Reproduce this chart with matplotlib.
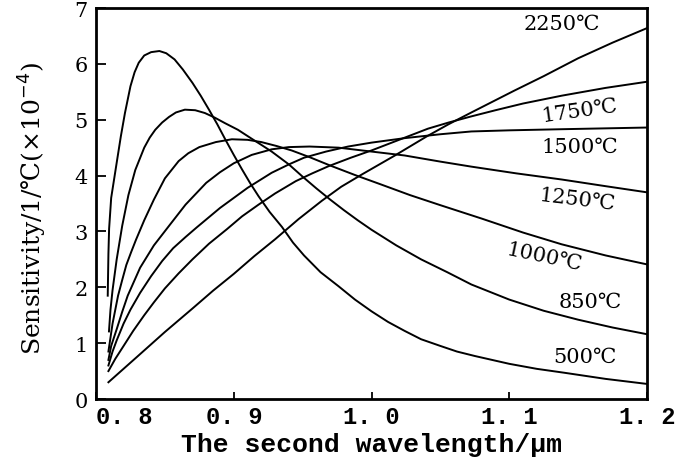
import matplotlib
matplotlib.use("Agg")
import matplotlib.pyplot as plt

# sensitivity curves, one per temperature (wavelength in um, sensitivity in 1e-4 /degC)
wl_500 = [0.8085, 0.809, 0.8095, 0.811, 0.815, 0.818, 0.821, 0.825, 0.828, 0.831, 0.835,
          0.84, 0.846, 0.851, 0.857, 0.863, 0.870, 0.876, 0.882, 0.888, 0.894, 0.9, 0.906,
          0.912, 0.918, 0.926, 0.935, 0.943, 0.951, 0.963, 0.976, 0.988, 1.0, 1.012, 1.024,
          1.036, 1.05, 1.062, 1.075, 1.1, 1.12, 1.14, 1.17, 1.2]
s_500 = [1.85, 2.6, 3.05, 3.6, 4.23, 4.7, 5.12, 5.6, 5.85, 6.02, 6.15,
         6.21, 6.23, 6.19, 6.08, 5.9, 5.66, 5.43, 5.18, 4.92, 4.64, 4.37, 4.11,
         3.86, 3.63, 3.35, 3.08, 2.8, 2.57, 2.27, 2.02, 1.78, 1.57, 1.38, 1.22,
         1.07, 0.95, 0.85, 0.77, 0.63, 0.54, 0.47, 0.36, 0.27]

wl_850 = [0.8094, 0.8105, 0.812, 0.815, 0.819, 0.8235, 0.8285, 0.835, 0.839, 0.843, 0.848,
          0.853, 0.858, 0.8645, 0.872, 0.879, 0.886, 0.8935, 0.903, 0.913, 0.92, 0.9275,
          0.94, 0.95, 0.96, 0.97, 0.98, 0.99, 1.0, 1.018, 1.036, 1.055, 1.0725, 1.1, 1.125,
          1.15, 1.175, 1.2]
s_850 = [1.21, 1.6, 1.95, 2.5, 3.1, 3.65, 4.1, 4.5, 4.68, 4.82, 4.95,
         5.05, 5.13, 5.18, 5.17, 5.12, 5.04, 4.94, 4.82, 4.66, 4.55, 4.43,
         4.2, 3.98, 3.77, 3.57, 3.38, 3.2, 3.03, 2.75, 2.5, 2.27, 2.05, 1.78, 1.58,
         1.42, 1.28, 1.16]

wl_1000 = [0.809, 0.8105, 0.812, 0.814, 0.816, 0.819, 0.822, 0.8255, 0.829, 0.835, 0.842,
           0.85, 0.86, 0.867, 0.875, 0.887, 0.8986, 0.91, 0.92, 0.931, 0.942, 0.955, 0.97,
           0.988, 1.007, 1.028, 1.05, 1.08, 1.11, 1.138, 1.17, 1.2]
s_1000 = [0.85, 1.1, 1.35, 1.6, 1.85, 2.13, 2.4, 2.63, 2.85, 3.2, 3.57,
          3.95, 4.26, 4.4, 4.51, 4.6, 4.65, 4.64, 4.6, 4.53, 4.45, 4.33, 4.18,
          4.01, 3.84, 3.65, 3.47, 3.23, 2.98, 2.77, 2.57, 2.41]

wl_1250 = [0.809, 0.811, 0.815, 0.819, 0.823, 0.832, 0.842, 0.853, 0.865, 0.88, 0.89,
           0.9, 0.913, 0.9275, 0.94, 0.955, 0.976, 1.0, 1.024, 1.05, 1.0725, 1.105, 1.138,
           1.17, 1.2]
s_1250 = [0.7, 0.95, 1.25, 1.56, 1.85, 2.35, 2.75, 3.1, 3.48, 3.87, 4.06,
          4.22, 4.37, 4.47, 4.51, 4.52, 4.5, 4.43, 4.36, 4.25, 4.16, 4.04, 3.93,
          3.81, 3.70]

wl_1500 = [0.809, 0.812, 0.815, 0.82, 0.825, 0.832, 0.84, 0.848, 0.856, 0.865, 0.873,
           0.89, 0.91, 0.9275, 0.94, 0.951, 0.967, 0.983, 1.0, 1.024, 1.05, 1.0725, 1.1,
           1.138, 1.2]
s_1500 = [0.6, 0.85, 1.05, 1.35, 1.6, 1.9, 2.2, 2.47, 2.7, 2.9, 3.07,
          3.42, 3.78, 4.05, 4.2, 4.32, 4.43, 4.52, 4.59, 4.67, 4.74, 4.79, 4.81,
          4.83, 4.86]

wl_1750 = [0.809, 0.814, 0.82, 0.827, 0.835, 0.842, 0.85, 0.86, 0.87, 0.882, 0.895,
           0.906, 0.918, 0.93, 0.945, 0.957, 0.969, 0.985, 1.0, 1.02, 1.041, 1.056, 1.0725,
           1.09, 1.11, 1.138, 1.17, 1.2]
s_1750 = [0.5, 0.72, 0.95, 1.22, 1.5, 1.73, 1.98, 2.25, 2.5, 2.78, 3.04,
          3.27, 3.48, 3.68, 3.9, 4.04, 4.17, 4.32, 4.45, 4.64, 4.84, 4.95, 5.06,
          5.17, 5.29, 5.43, 5.57, 5.68]

wl_2250 = [0.809, 0.83, 0.85, 0.87, 0.885, 0.9, 0.915, 0.93, 0.947, 0.964, 0.978, 0.993,
           1.017, 1.04, 1.056, 1.0725, 1.1036, 1.125, 1.15, 1.175, 1.2]
s_2250 = [0.3, 0.76, 1.2, 1.62, 1.94, 2.24, 2.56, 2.86, 3.22, 3.55, 3.8, 4.02,
          4.36, 4.7, 4.92, 5.13, 5.52, 5.78, 6.1, 6.38, 6.64]

curves = [(wl_500, s_500), (wl_850, s_850), (wl_1000, s_1000), (wl_1250, s_1250),
          (wl_1500, s_1500), (wl_1750, s_1750), (wl_2250, s_2250)]

# temperature labels: text, x, y, rotation
temp_labels = ["2250℃", "1750℃", "1500℃", "1250℃", "1000℃", "850℃", "500℃"]
label_x = [1.138, 1.151, 1.151, 1.149, 1.125, 1.159, 1.155]
label_y = [6.73, 5.18, 4.52, 3.57, 2.55, 1.75, 0.77]
label_rot = [0, 8, 0, -7, -12, 0, 0]

x_ticks = [0.8, 0.9, 1.0, 1.1, 1.2]
x_ticklabels = ["0. 8", "0. 9", "1. 0", "1. 1", "1. 2"]
y_ticks = [0, 1, 2, 3, 4, 5, 6, 7]

serif = ["DejaVu Serif", "DejaVu Sans"]

fig = plt.figure(figsize=(6.82, 4.64), dpi=100)
ax = fig.add_axes([0.1408, 0.1379, 0.8079, 0.8427])

for wl, s in curves:
    ax.plot(wl, s, color="black", linewidth=1.4)

for txt, x, y, r in zip(temp_labels, label_x, label_y, label_rot):
    ax.text(x, y, txt, ha="center", va="center", rotation=r,
            fontsize=15, family=serif)

ax.set_xlim(0.8, 1.2)
ax.set_ylim(0, 7)
ax.set_xticks(x_ticks)
ax.set_xticklabels(x_ticklabels, family="Liberation Mono", fontsize=17, fontweight="bold")
ax.get_xticklabels()[0].set_horizontalalignment("left")
ax.set_yticks(y_ticks)
ax.set_yticklabels([str(v) for v in y_ticks], family=serif, fontsize=15)

ax.tick_params(axis="y", direction="in", length=7, width=1.3, pad=6)
ax.tick_params(axis="x", direction="in", length=5, width=1.3, pad=4)
ax.tick_params(top=False, right=False)
for sp in ax.spines.values():
    sp.set_linewidth(2.0)

ax.set_xlabel("The second wavelength/μm", family="Liberation Mono", fontsize=19,
              fontweight="bold", labelpad=3)
ax.set_ylabel("Sensitivity/1/℃(×10$^{-4}$)", family=serif, fontsize=18)
ax.yaxis.set_label_coords(-0.085, 0.49)

fig.savefig("out.png", dpi=100, facecolor="white")
